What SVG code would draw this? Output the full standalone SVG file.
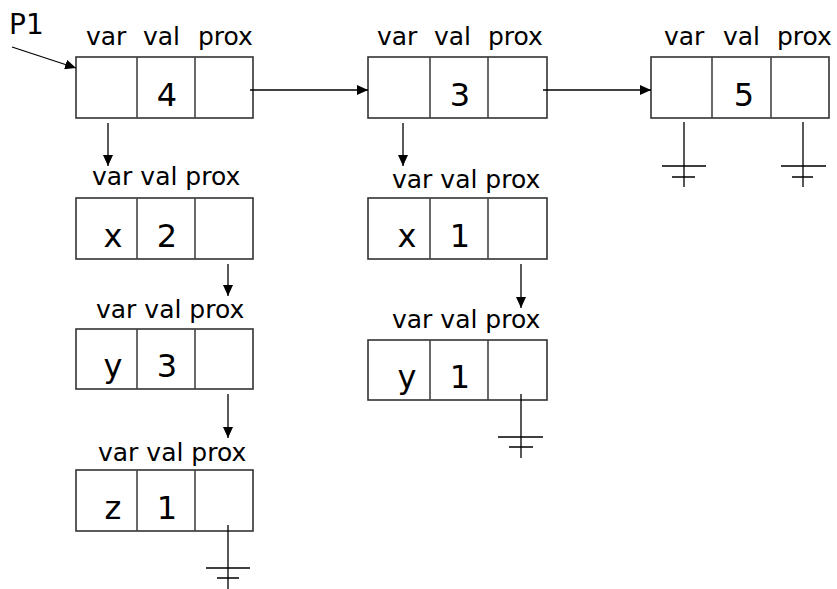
<svg xmlns="http://www.w3.org/2000/svg" width="837" height="589" viewBox="0 0 837 589">
<style>
.box{fill:#fff;stroke:#333;stroke-width:1.6}
.div{stroke:#444;stroke-width:1.6}
.lbl{font-family:"DejaVu Sans",Verdana,sans-serif;font-size:25px;fill:#000}
.val{font-family:"DejaVu Sans",Verdana,sans-serif;font-size:32px;fill:#000;text-anchor:middle}
.p1{font-family:"DejaVu Sans",Verdana,sans-serif;font-size:28px;fill:#000}
.ln{stroke:#000;stroke-width:1.3;fill:none}
.ar{stroke:#000;stroke-width:1.3;fill:none;marker-end:url(#ah)}
</style>
<defs>
<marker id="ah" markerUnits="userSpaceOnUse" markerWidth="12" markerHeight="10" refX="11" refY="5" orient="auto">
<path d="M0,0 L11,5 L0,10 Z" fill="#000"/>
</marker>
</defs>
<rect width="837" height="589" fill="#fff"/>
<text class="p1" x="9" y="34">P1</text>

<g id="nodeA">
<text class="lbl" x="86" y="45">var</text><text class="lbl" x="143" y="45">val</text><text class="lbl" x="198" y="45">prox</text>
<rect class="box" x="76" y="57" width="177" height="61"/>
<line class="div" x1="137" y1="57" x2="137" y2="118"/><line class="div" x1="195" y1="57" x2="195" y2="118"/>
<text class="val" x="167" y="106">4</text>
</g>
<g id="nodeB">
<text class="lbl" x="377" y="45">var</text><text class="lbl" x="434" y="45">val</text><text class="lbl" x="488" y="45">prox</text>
<rect class="box" x="368" y="57" width="179" height="61"/>
<line class="div" x1="430" y1="57" x2="430" y2="118"/><line class="div" x1="488" y1="57" x2="488" y2="118"/>
<text class="val" x="460" y="106">3</text>
</g>
<g id="nodeC">
<text class="lbl" x="664" y="45">var</text><text class="lbl" x="723" y="45">val</text><text class="lbl" x="777" y="45">prox</text>
<rect class="box" x="651" y="57" width="178" height="61"/>
<line class="div" x1="712" y1="57" x2="712" y2="118"/><line class="div" x1="771" y1="57" x2="771" y2="118"/>
<text class="val" x="744" y="106">5</text>
</g>
<g id="nodeA1">
<text class="lbl" x="92" y="185">var val prox</text>
<rect class="box" x="76" y="198" width="177" height="61"/>
<line class="div" x1="137" y1="198" x2="137" y2="259"/><line class="div" x1="195" y1="198" x2="195" y2="259"/>
<text class="val" x="113" y="247">x</text><text class="val" x="167" y="247">2</text>
</g>
<g id="nodeA2">
<text class="lbl" x="96" y="318">var val prox</text>
<rect class="box" x="76" y="329" width="177" height="60"/>
<line class="div" x1="137" y1="329" x2="137" y2="389"/><line class="div" x1="195" y1="329" x2="195" y2="389"/>
<text class="val" x="113" y="377">y</text><text class="val" x="167" y="377">3</text>
</g>
<g id="nodeA3">
<text class="lbl" x="98" y="461">var val prox</text>
<rect class="box" x="76" y="470" width="177" height="61"/>
<line class="div" x1="137" y1="470" x2="137" y2="531"/><line class="div" x1="195" y1="470" x2="195" y2="531"/>
<text class="val" x="113" y="519">z</text><text class="val" x="167" y="519">1</text>
</g>
<g id="nodeB1">
<text class="lbl" x="392" y="188">var val prox</text>
<rect class="box" x="368" y="198" width="179" height="61"/>
<line class="div" x1="430" y1="198" x2="430" y2="259"/><line class="div" x1="488" y1="198" x2="488" y2="259"/>
<text class="val" x="407" y="247">x</text><text class="val" x="460" y="247">1</text>
</g>
<g id="nodeB2">
<text class="lbl" x="392" y="328">var val prox</text>
<rect class="box" x="368" y="340" width="179" height="60"/>
<line class="div" x1="430" y1="340" x2="430" y2="400"/><line class="div" x1="488" y1="340" x2="488" y2="400"/>
<text class="val" x="407" y="388">y</text><text class="val" x="460" y="388">1</text>
</g>

<g id="connectors">
<line class="ar" x1="12" y1="47" x2="76" y2="68"/>
<line class="ar" x1="250" y1="90" x2="368" y2="90"/>
<line class="ar" x1="543" y1="90" x2="651" y2="90"/>
<line class="ar" x1="108" y1="123" x2="108" y2="166"/>
<line class="ar" x1="403" y1="123" x2="403" y2="166"/>
<line class="ar" x1="228" y1="264" x2="228" y2="296"/>
<line class="ar" x1="228" y1="394" x2="228" y2="438"/>
<line class="ar" x1="521" y1="264" x2="521" y2="308"/>
<!-- grounds -->
<path class="ln" d="M684,122 V187 M662,166 H706 M672,177 H695"/>
<path class="ln" d="M803,122 V187 M781,166 H826 M792,177 H813"/>
<path class="ln" d="M228,525 V589 M206,568 H250 M217,578 H239"/>
<path class="ln" d="M521,394 V458 M498,437 H543 M509,447 H533"/>
</g>
</svg>
